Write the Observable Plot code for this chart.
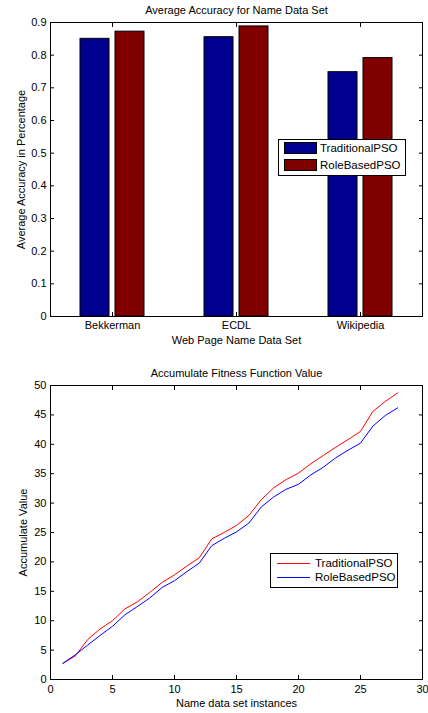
<!DOCTYPE html>
<html><head><meta charset="utf-8">
<script src="https://cdn.jsdelivr.net/npm/d3@7"></script>
<script src="https://cdn.jsdelivr.net/npm/@observablehq/plot@0.6"></script>
<style>
body{margin:0;background:#fff;font-family:"Liberation Sans",Arial,sans-serif;}
#wrap{position:relative;width:428px;height:713px;overflow:hidden;background:#fff;}
#wrap svg{display:block;}
.legend{position:absolute;border:1px solid #000;background:#fff;box-sizing:border-box;font-size:11.5px;color:#000;}
.legend .txt{position:absolute;white-space:nowrap;line-height:12px;transform:translateY(-50%);}
.legend .sw{position:absolute;box-sizing:border-box;border:1px solid #000;}
.legend .ln{position:absolute;height:0;border-top:1px solid;}
</style></head><body><div id="wrap"></div>
<script>
// ---- Chart 1 data ----
const title1 = "Average Accuracy for Name Data Set";
const xLabel1 = "Web Page Name Data Set";
const yLabel1 = "Average Accuracy in Percentage";
const categories = ["Bekkerman", "ECDL", "Wikipedia"];
const seriesNames = ["TraditionalPSO", "RoleBasedPSO"];
const traditionalAccuracy = [0.850, 0.855, 0.748];
const roleBasedAccuracy = [0.872, 0.888, 0.791];
const accuracyTicks = [0, 0.1, 0.2, 0.3, 0.4, 0.5, 0.6, 0.7, 0.8, 0.9];
const barColors = ["#00008F", "#800000"];

// ---- Chart 2 data ----
const title2 = "Accumulate Fitness Function Value";
const xLabel2 = "Name data set instances";
const yLabel2 = "Accumulate Value";
const instances = [1,2,3,4,5,6,7,8,9,10,11,12,13,14,15,16,17,18,19,20,21,22,23,24,25,26,27,28];
const traditionalFitness = [2.75,4.0,6.8,8.6,10.0,12.0,13.2,14.8,16.5,17.8,19.3,20.7,23.9,25.0,26.2,27.9,30.6,32.6,34.0,35.1,36.7,38.1,39.5,40.8,42.2,45.6,47.3,48.75];
const roleBasedFitness = [2.75,4.2,5.85,7.5,9.05,11.0,12.4,13.85,15.65,16.8,18.35,19.8,22.75,24.0,25.1,26.6,29.35,31.05,32.35,33.2,34.8,36.1,37.7,39.0,40.2,43.1,44.9,46.2];
const instanceTicks = [0, 5, 10, 15, 20, 25, 30];
const fitnessTicks = [0, 5, 10, 15, 20, 25, 30, 35, 40, 45, 50];
const lineColors = ["#FF0000", "#0000FF"];

const FONT = '"Liberation Sans", Arial, sans-serif';
const style = {fontFamily: FONT, fontSize: "11px", background: "white", color: "black"};

// ---- Chart 1 ----
const accuracyTable = categories.flatMap((c, i) => [
  {category: c, series: seriesNames[0], value: traditionalAccuracy[i]},
  {category: c, series: seriesNames[1], value: roleBasedAccuracy[i]}
]);

const chart1 = Plot.plot({
  width: 428, height: 355,
  marginLeft: 50, marginRight: 6, marginTop: 22, marginBottom: 39,
  style,
  fx: {domain: categories, padding: 0},
  x: {domain: seriesNames, paddingInner: 0.183, paddingOuter: 0.837, axis: null},
  y: {domain: [0, 0.9]},
  color: {domain: seriesNames, range: barColors},
  marks: [
    Plot.barY(accuracyTable, {fx: "category", x: "series", y: "value", fill: "series", stroke: "black", strokeWidth: 1}),
    Plot.frame({facet: "super", stroke: "black", strokeWidth: 1}),
    Plot.axisY({ticks: accuracyTicks, anchor: "left", tickSize: -4, tickPadding: 8, tickFormat: d3.format("~g"), label: null}),
    Plot.axisY({ticks: accuracyTicks, anchor: "right", tickSize: -4, tickFormat: () => "", label: null}),
    Plot.axisFx({anchor: "bottom", tickSize: -4, tickPadding: 9, label: null}),
    Plot.axisFx({anchor: "top", tickSize: -4, tickFormat: () => "", label: null}),
    Plot.text([title1], {facet: "super", frameAnchor: "top", dy: -12.5, text: d => d, textAnchor: "middle", lineAnchor: "middle", fontSize: 11}),
    Plot.text([xLabel1], {facet: "super", frameAnchor: "bottom", dy: 24, text: d => d, textAnchor: "middle", lineAnchor: "middle", fontSize: 11}),
    Plot.text([yLabel1], {facet: "super", frameAnchor: "left", dx: -29, rotate: -90, text: d => d, textAnchor: "middle", lineAnchor: "middle", fontSize: 11})
  ]
});

// ---- Chart 2 ----
const chart2 = Plot.plot({
  width: 428, height: 358,
  marginLeft: 50, marginRight: 6, marginTop: 30, marginBottom: 34,
  style,
  x: {domain: [0, 30]},
  y: {domain: [0, 50]},
  marks: [
    Plot.line(instances, {x: d => d, y: (d, i) => traditionalFitness[i], stroke: lineColors[0], strokeWidth: 1}),
    Plot.line(instances, {x: d => d, y: (d, i) => roleBasedFitness[i], stroke: lineColors[1], strokeWidth: 1}),
    Plot.frame({stroke: "black", strokeWidth: 1}),
    Plot.axisY({ticks: fitnessTicks, anchor: "left", tickSize: -4, tickPadding: 8, label: null}),
    Plot.axisY({ticks: fitnessTicks, anchor: "right", tickSize: -4, tickFormat: () => "", label: null}),
    Plot.axisX({ticks: instanceTicks, anchor: "bottom", tickSize: -4, tickPadding: 10, label: null}),
    Plot.axisX({ticks: instanceTicks, anchor: "top", tickSize: -4, tickFormat: () => "", label: null}),
    Plot.text([title2], {frameAnchor: "top", dy: -11.7, text: d => d, textAnchor: "middle", lineAnchor: "middle", fontSize: 11}),
    Plot.text([xLabel2], {frameAnchor: "bottom", dy: 24, text: d => d, textAnchor: "middle", lineAnchor: "middle", fontSize: 11}),
    Plot.text([yLabel2], {frameAnchor: "left", dx: -27, rotate: -90, text: d => d, textAnchor: "middle", lineAnchor: "middle", fontSize: 11})
  ]
});

const wrap = document.getElementById("wrap");
wrap.appendChild(chart1);
wrap.appendChild(chart2);

// ---- Legends ----
function legendBox(left, top, w, h) {
  const d = document.createElement("div");
  d.className = "legend";
  Object.assign(d.style, {left: left + "px", top: top + "px", width: w + "px", height: h + "px"});
  wrap.appendChild(d);
  return d;
}
function addText(box, label, left, cy) {
  const t = document.createElement("span");
  t.className = "txt"; t.textContent = label;
  Object.assign(t.style, {left: left + "px", top: cy + "px"});
  box.appendChild(t);
}
// bar legend
const lg1 = legendBox(277.7, 139.3, 128.3, 36.7);
seriesNames.forEach((name, i) => {
  const s = document.createElement("div");
  s.className = "sw";
  Object.assign(s.style, {left: "5.6px", top: (2 + i * 16.7) + "px", width: "32.4px", height: "11.7px", background: barColors[i]});
  lg1.appendChild(s);
  addText(lg1, name, 41.3, 7.9 + i * 16.7);
});
// line legend
const lg2 = legendBox(270, 552.7, 127.7, 35.6);
seriesNames.forEach((name, i) => {
  const l = document.createElement("div");
  l.className = "ln";
  Object.assign(l.style, {left: "5.7px", top: (9.6 + i * 14) + "px", width: "33.3px", borderTopColor: lineColors[i]});
  lg2.appendChild(l);
  addText(lg2, name, 44, 9.6 + i * 14);
});
</script></body></html>
